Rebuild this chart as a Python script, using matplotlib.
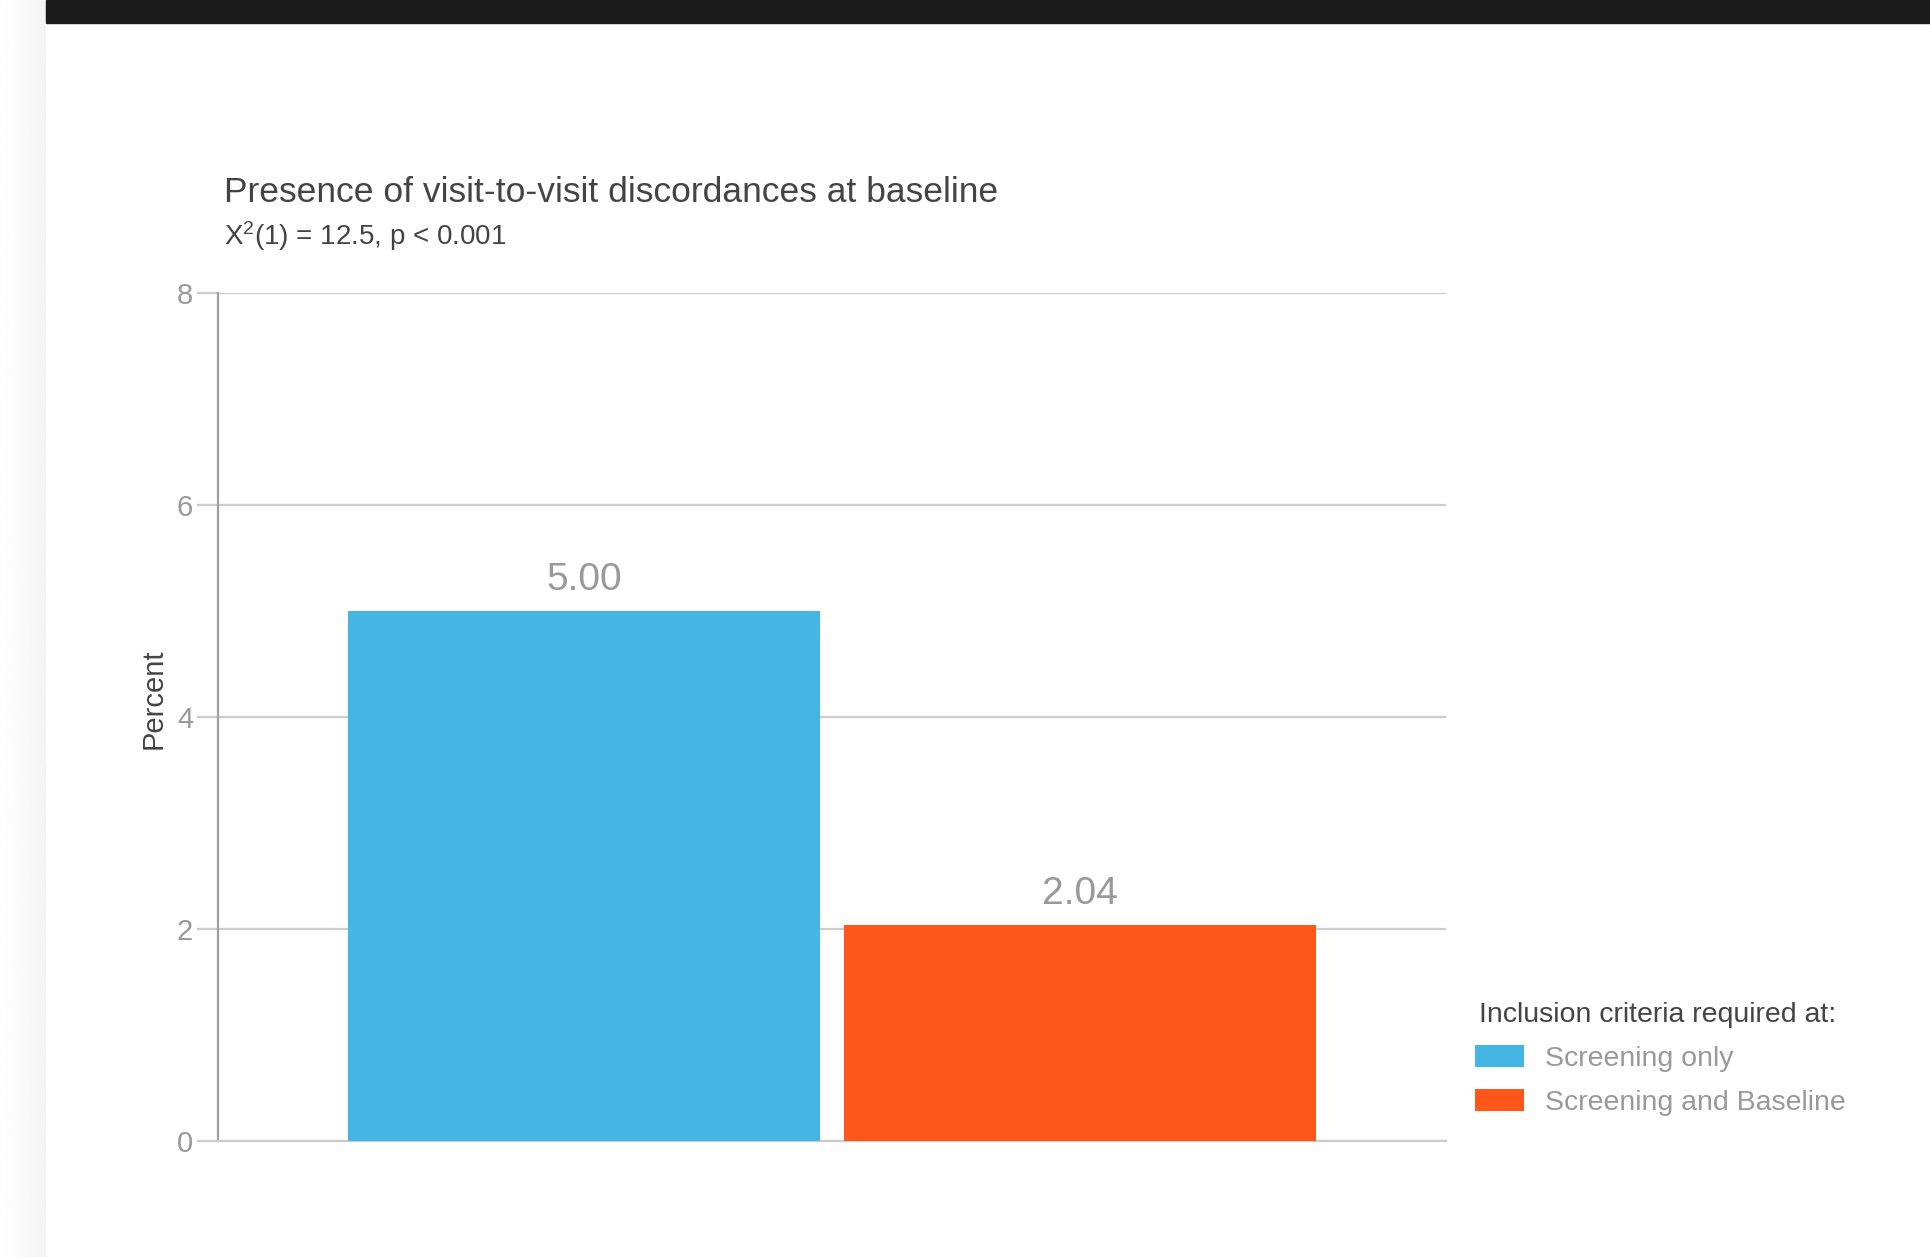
import numpy as np
import matplotlib.pyplot as plt
from matplotlib.patches import Patch, Rectangle

plt.rcParams['font.family'] = ['Liberation Sans', 'DejaVu Sans']
plt.rcParams['mathtext.fontset'] = 'custom'
plt.rcParams['mathtext.rm'] = 'Liberation Sans'
plt.rcParams['mathtext.it'] = 'Liberation Sans'

# data
groups = ["Screening only", "Screening and Baseline"]
percent = [5.00, 2.04]
colors = ["#45b6e4", "#ff5719"]
yticks = [0, 2, 4, 6, 8]

title = "Presence of visit-to-visit discordances at baseline"
subtitle = "X$^{2}$(1) = 12.5, p < 0.001"
legend_title = "Inclusion criteria required at:"

W, H = 1930, 1257
fig = plt.figure(figsize=(W / 100, H / 100), dpi=100)
fig.patch.set_facecolor("white")

# page chrome: dark strip on top, soft shadow at the left
fig.patches.append(Rectangle((46 / W, 1 - 23 / H), 1, 23 / H,
                             transform=fig.transFigure, color="#1b1b1b", zorder=0))
shade = fig.add_axes([0, 0, 46 / W, 1])
grad = np.linspace(1.0, 0.955, 64).reshape(1, -1)
shade.imshow(grad, cmap="gray", vmin=0, vmax=1, aspect="auto")
shade.axis("off")

ax = fig.add_axes([218 / W, (H - 1141) / H, (1446 - 218) / W, (1141 - 293) / H])

x = np.arange(len(groups))
bars = ax.bar(x, percent, width=0.952, color=colors, zorder=3)

for xi, v in zip(x, percent):
    ax.text(xi, v + 0.12, f"{v:.2f}", ha="center", va="bottom",
            fontsize=28, color="#999999")

ax.set_xlim(-0.738, 1.738)
ax.set_ylim(0, 8)
ax.set_yticks(yticks)
ax.set_yticklabels([str(t) for t in yticks])
ax.set_xticks([])

ax.grid(axis="y", color="#cccccc", linewidth=1.6, zorder=0)
ax.tick_params(axis="y", length=15, width=1.6, color="#cccccc",
               labelsize=21, labelcolor="#999999", pad=3)
for s in ["top", "right"]:
    ax.spines[s].set_visible(False)
ax.spines["bottom"].set_color("#cccccc")
ax.spines["bottom"].set_linewidth(1.6)
ax.spines["left"].set_color("#a0a0a0")
ax.spines["left"].set_linewidth(1.6)

ax.set_ylabel("Percent", fontsize=21, color="#444444", va="center")
ax.yaxis.set_label_coords(-0.0525, 0.522)

fig.text(224 / W, 1 - 192 / H, title, fontsize=25.5, color="#444444",
         ha="left", va="center")
fig.text(224 / W, 1 - 236 / H, subtitle, fontsize=20, color="#444444",
         ha="left", va="center")

handles = [Patch(facecolor=c, edgecolor="none") for c in colors]
leg = fig.legend(handles, groups, title=legend_title,
                 loc="upper left", bbox_to_anchor=(1464 / W, 1 - 991 / H),
                 frameon=False, fontsize=20.5, title_fontsize=20.5,
                 handlelength=1.72, handleheight=0.78, handletextpad=0.72,
                 labelspacing=0.6, borderaxespad=0, alignment="left")
leg.get_title().set_color("#444444")
leg.get_title().set_x(4)
for t in leg.get_texts():
    t.set_color("#999999")

fig.savefig("out.png", dpi=100)
